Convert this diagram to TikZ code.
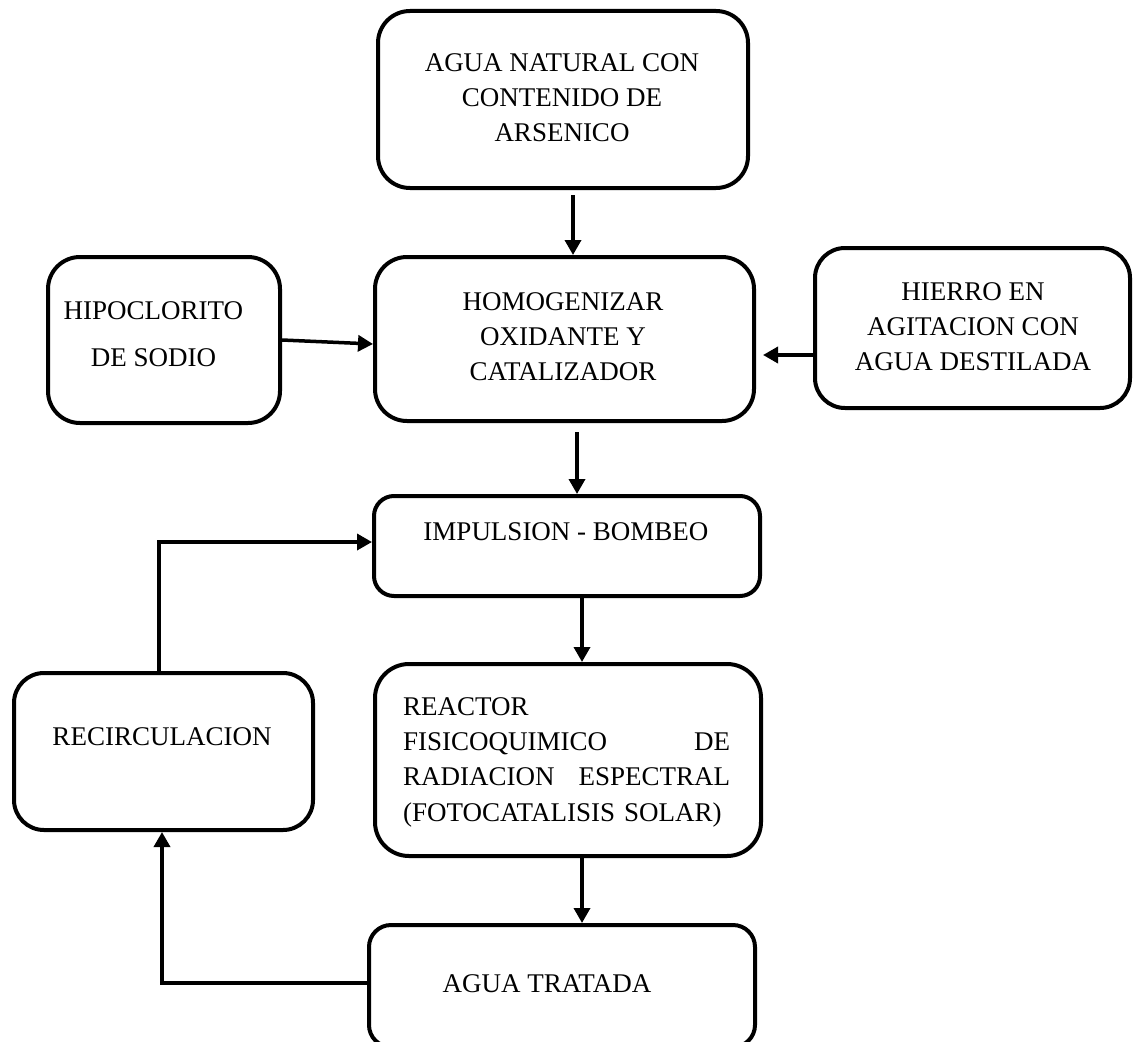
\documentclass[tikz,border=0pt]{standalone}
\usepackage{fontspec}
\setmainfont{Liberation Serif}
\usetikzlibrary{arrows.meta,calc}
\begin{document}
\begin{tikzpicture}[x=1pt,y=-1pt,
  box/.style={draw,line width=4pt,rounded corners=#1,inner sep=0pt},
  box/.default=30pt,
  txt/.style={inner sep=0pt,align=center,font=\fontsize{27}{35.3}\selectfont},
  arr/.style={line width=3.5pt,-{Triangle[length=15pt,width=16pt]}}]
\useasboundingbox (0,0) rectangle (1134,1041);
% boxes
\node[box=32pt,minimum width=370pt,minimum height=177pt] (top) at (563,99.5) {};
\node[box=32pt,minimum width=379pt,minimum height=164pt] (homog) at (564.5,339) {};
\node[box=32pt,minimum width=232pt,minimum height=166pt] (hipo) at (164,340) {};
\node[box=30pt,minimum width=315pt,minimum height=160pt] (hierro) at (972.5,328) {};
\node[box=20pt,minimum width=386pt,minimum height=100pt] (impulsion) at (567,546) {};
\node[box=34pt,minimum width=386pt,minimum height=192pt] (reactor) at (568,760) {};
\node[box=30pt,minimum width=299pt,minimum height=157pt] (recirc) at (163.5,751.5) {};
\node[box=22pt,minimum width=386pt,minimum height=122pt] (agua) at (562,986) {};
% texts
\node[txt,anchor=north] (t1) at (562,53.3) {AGUA NATURAL CON\\CONTENIDO DE\\ARSENICO};
\node[txt,anchor=north] (t2) at (563,292.3) {HOMOGENIZAR\\OXIDANTE Y\\CATALIZADOR};
\node[txt,anchor=north,font=\fontsize{27}{47}\selectfont] (t3) at (153.5,301.3) {HIPOCLORITO\\DE SODIO};
\node[txt,anchor=north] (t4) at (973,282.3) {HIERRO EN\\AGITACION CON\\AGUA DESTILADA};
\node[txt,anchor=north] (t5) at (566,522.3) {IMPULSION - BOMBEO};
\node[txt,anchor=north west,text width=327pt,align=left] (t6) at (403,697.3)
  {REACTOR\\FISICOQUIMICO\hfill DE\\RADIACION\hfill ESPECTRAL\\(FOTOCATALISIS SOLAR)};
\node[txt,anchor=north] (t7) at (162,727.3) {RECIRCULACION};
\node[txt,anchor=north] (t8) at (547,974.3) {AGUA TRATADA};
% connectors
\draw[arr] ($(top.south)+(10,5)$) -- ($(homog.north)+(8.5,0)$);
\draw[arr] (hipo.east) -- ($(homog.west)+(0,5)$);
\draw[arr] ($(hierro.west)+(0,27)$) -- ($(homog.east)+(7,16)$);
\draw[arr] ($(homog.south)+(12.5,9)$) -- ($(impulsion.north)+(10,0)$);
\draw[arr] ($(impulsion.south)+(15,0)$) -- ($(reactor.north)+(14,0)$);
\draw[arr] ($(reactor.south)+(14,0)$) -- ($(agua.north)+(20,0)$);
\draw[arr] ($(agua.west)+(0,-3)$) -| ($(recirc.south)+(-1.5,0)$);
\draw[arr] ($(recirc.north)+(-4.5,0)$) |- ($(impulsion.west)+(0,-4)$);
\end{tikzpicture}
\end{document}
